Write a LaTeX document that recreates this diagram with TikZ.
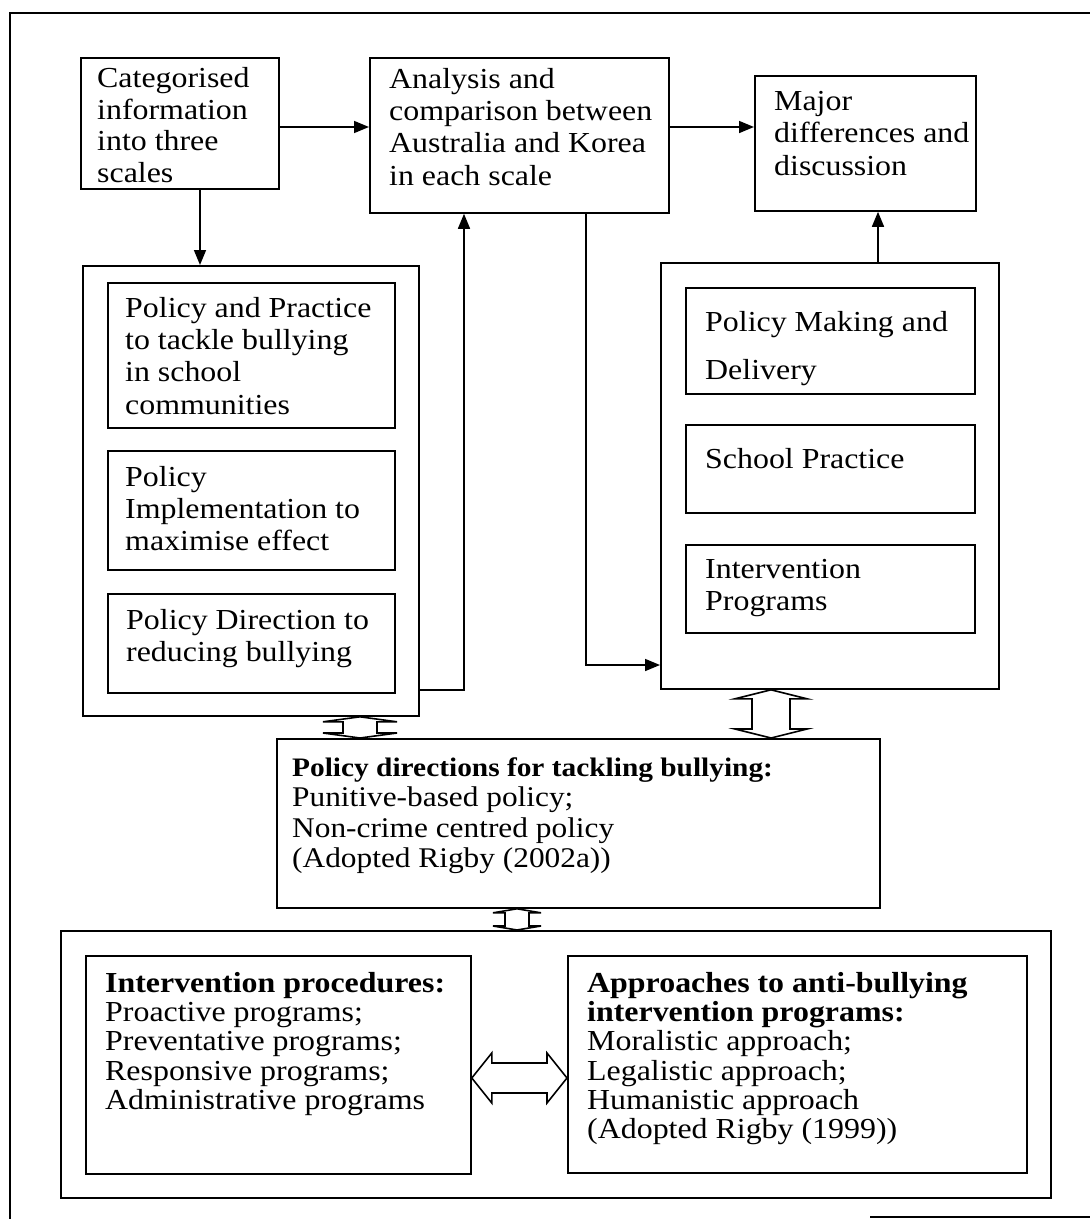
\documentclass[tikz,border=0pt]{standalone}
\usepackage{fontspec}
\setmainfont{Liberation Serif}[FakeStretch=1.1]
\usetikzlibrary{arrows.meta,calc}

% hollow two-headed arrow, vertical: top point, bottom point, half shaft, half head, head length
\newcommand\vhollow[5]{%
  \draw[hollow] let \p1=(#1), \p2=(#2) in
    (\p1) -- (\x1+#4,\y1-#5) -- (\x1+#3,\y1-#5) -- (\x2+#3,\y2+#5) -- (\x2+#4,\y2+#5)
    -- (\p2) -- (\x2-#4,\y2+#5) -- (\x2-#3,\y2+#5) -- (\x1-#3,\y1-#5) -- (\x1-#4,\y1-#5) -- cycle;}
% hollow two-headed arrow, horizontal: left point, right point, half shaft, half head, head length
\newcommand\hhollow[5]{%
  \draw[hollow] let \p1=(#1), \p2=(#2) in
    (\p1) -- (\x1+#5,\y1+#4) -- (\x1+#5,\y1+#3) -- (\x2-#5,\y2+#3) -- (\x2-#5,\y2+#4)
    -- (\p2) -- (\x2-#5,\y2-#4) -- (\x2-#5,\y2-#3) -- (\x1+#5,\y1-#3) -- (\x1+#5,\y1-#4) -- cycle;}

\tikzset{
  box/.style={draw, line width=1.8pt, inner sep=0pt, anchor=north west},
  txt/.style={anchor=north west, align=left, inner sep=0pt, font=\fontsize{29}{32.3}\selectfont},
  arr/.style={line width=1.6pt, -{Triangle[length=15pt,width=12pt]}},
  hollow/.style={line width=1.6pt, fill=white, line join=miter},
}

\begin{document}
\begin{tikzpicture}[x=1pt, y=-1pt]
\useasboundingbox (0,0) rectangle (1090,1219);

% outer frame
\draw[line width=1.4pt] (10,1219) -- (10,13) -- (1090,13);
\draw[line width=1.2pt] (870,1217) -- (1090,1217);

% top row
\node[box, minimum width=198pt, minimum height=131pt] (b1) at (80,57) {};
\node[txt, font=\fontsize{29}{31.7}\selectfont] (t1) at (97,67) {Categorised\\information\\into three\\scales};
\node[box, minimum width=299pt, minimum height=155pt] (b2) at (369,57) {};
\node[txt] (t2) at (389,68) {Analysis and\\comparison between\\Australia and Korea\\in each scale};
\node[box, minimum width=221pt, minimum height=135pt] (b3) at (754,75) {};
\node[txt] (t3) at (774,91) {Major\\differences and\\discussion};

% left column of scales
\node[box, minimum width=336pt, minimum height=450pt] (lc) at (82,265) {};
\node[box, minimum width=287pt, minimum height=145pt] (la) at (107,282) {};
\node[txt] (tla) at (125,297) {Policy and Practice\\to tackle bullying\\in school\\communities};
\node[box, minimum width=287pt, minimum height=119pt] (lb) at (107,450) {};
\node[txt] (tlb) at (125,466) {Policy\\Implementation to\\maximise effect};
\node[box, minimum width=287pt, minimum height=99pt] (lcc) at (107,593) {};
\node[txt] (tlc) at (126,609) {Policy Direction to\\reducing bullying};

% right column of scales
\node[box, minimum width=338pt, minimum height=426pt] (rc) at (660,262) {};
\node[box, minimum width=289pt, minimum height=106pt] (ra) at (685,287) {};
\node[txt, font=\fontsize{29}{48}\selectfont] (tra) at (705,311) {Policy Making and\\Delivery};
\node[box, minimum width=289pt, minimum height=88pt] (rb) at (685,424) {};
\node[txt] (trb) at (705,448) {School Practice};
\node[box, minimum width=289pt, minimum height=88pt] (rcc) at (685,544) {};
\node[txt] (trc) at (705,559) {Intervention\\Programs};

% policy directions
\node[box, minimum width=603pt, minimum height=169pt] (mid) at (276,738) {};
\node[txt, font=\fontsize{28.5}{30.5}\selectfont] (tmid) at (292,757)
  {{\fontsize{26.7}{30.5}\selectfont\bfseries Policy directions for tackling bullying:}\\Punitive-based policy;\\Non-crime centred policy\\(Adopted Rigby (2002a))};

% intervention procedures and approaches
\node[box, minimum width=990pt, minimum height=267pt] (bc) at (60,930) {};
\node[box, minimum width=385pt, minimum height=218pt] (il) at (85,955) {};
\node[txt, font=\fontsize{29}{29.3}\selectfont] (til) at (105,972)
  {\textbf{Intervention procedures:}\\Proactive programs;\\Preventative programs;\\Responsive programs;\\Administrative programs};
\node[box, minimum width=459pt, minimum height=217pt] (ir) at (567,955) {};
\node[txt, font=\fontsize{29}{29.3}\selectfont] (tir) at (587,972)
  {\textbf{Approaches to anti-bullying}\\\textbf{intervention programs:}\\Moralistic approach;\\Legalistic approach;\\Humanistic approach\\(Adopted Rigby (1999))};

% guide coordinates for connector lines
\coordinate (row) at (0,127);
\coordinate (colA) at (200,0);
\coordinate (rowB) at (0,690);
\coordinate (colB) at (464,0);
\coordinate (colC) at (586,0);
\coordinate (rowC) at (0,665);
\coordinate (colD) at (878,0);
\coordinate (colE) at (360,0);
\coordinate (colF) at (771,0);
\coordinate (colG) at (517,0);
\coordinate (rowH) at (0,1078);

% connectors
\draw[arr] (b1.east |- row) -- (b2.west |- row);
\draw[arr] (b2.east |- row) -- (b3.west |- row);
\draw[arr] (colA |- b1.south) -- (colA |- lc.north);
\draw[arr] (lc.east |- rowB) -| (colB |- b2.south);
\draw[arr] (colC |- b2.south) |- (rc.west |- rowC);
\draw[arr] (colD |- rc.north) -- (colD |- b3.south);

% two-headed hollow arrows
\vhollow{colE |- lc.south}{colE |- mid.north}{17pt}{37pt}{5pt}
\vhollow{colF |- rc.south}{colF |- mid.north}{19pt}{36pt}{9pt}
\vhollow{colG |- mid.south}{colG |- bc.north}{12pt}{24pt}{4pt}
\hhollow{il.east |- rowH}{ir.west |- rowH}{15pt}{25pt}{20pt}
\end{tikzpicture}
\end{document}
